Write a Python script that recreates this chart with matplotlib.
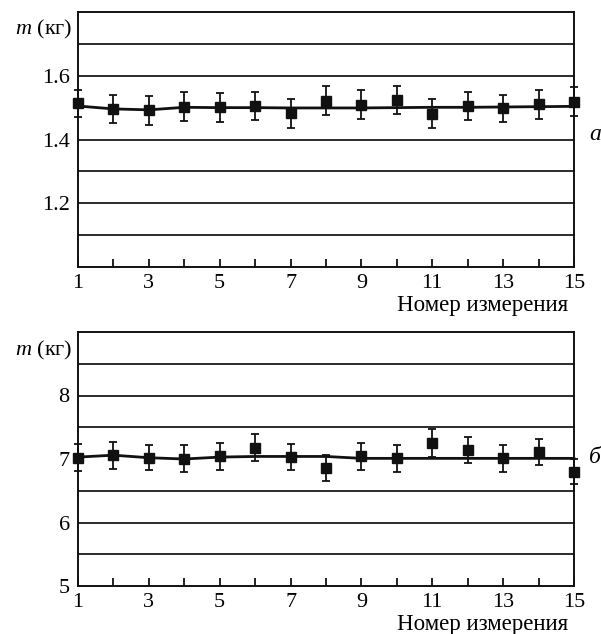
import matplotlib
matplotlib.use("Agg")
import matplotlib.pyplot as plt
import numpy as np

plt.rcParams['font.family'] = ['Liberation Serif', 'DejaVu Serif']
plt.rcParams['mathtext.fontset'] = 'custom'
plt.rcParams['mathtext.it'] = 'Liberation Serif:italic'
plt.rcParams['mathtext.rm'] = 'Liberation Serif'

n_meas = list(range(1, 16))

# Panel a
m_a = [1.514, 1.496, 1.491, 1.503, 1.501, 1.505, 1.482, 1.522, 1.509, 1.524,
       1.481, 1.505, 1.498, 1.510, 1.519]
err_a = [0.042, 0.045, 0.045, 0.045, 0.045, 0.045, 0.045, 0.045, 0.045, 0.045,
         0.045, 0.045, 0.043, 0.045, 0.045]
mean_a = [1.505, 1.496, 1.493, 1.501, 1.500, 1.500, 1.499, 1.499, 1.499, 1.500,
          1.501, 1.501, 1.502, 1.503, 1.504]
grid_a = [1.1, 1.2, 1.3, 1.4, 1.6, 1.7]
yticks_a = [1.2, 1.4, 1.6]
ylim_a = (1.0, 1.8)

# Panel b
m_b = [7.02, 7.06, 7.02, 7.005, 7.04, 7.18, 7.03, 6.86, 7.04, 7.01,
       7.25, 7.14, 7.01, 7.11, 6.80]
err_b = [0.21, 0.21, 0.20, 0.21, 0.21, 0.21, 0.21, 0.21, 0.21, 0.21,
         0.215, 0.21, 0.21, 0.21, 0.20]
mean_b = [7.03, 7.06, 7.02, 7.00, 7.03, 7.04, 7.04, 7.04, 7.01, 7.01,
          7.01, 7.01, 7.01, 7.01, 7.01]
grid_b = [5.5, 6.0, 6.5, 7.5, 8.0, 8.5]
yticks_b = [5, 6, 7, 8]
ylim_b = (5.0, 9.0)

xticklabels = ['1', '', '3', '', '5', '', '7', '', '9', '', '11', '', '13', '', '15']

W, H = 601, 634
fig = plt.figure(figsize=(W / 100, H / 100), dpi=100)

def px_axes(left, top, right, bottom):
    return fig.add_axes([left / W, 1 - bottom / H, (right - left) / W, (bottom - top) / H])

ax1 = px_axes(78, 12, 574, 267)
ax2 = px_axes(78, 332, 574, 586)

def draw(ax, m, err, mean, grid, yticks, ylim, ylabels, letter, label_y, letter_y):
    ax.set_xlim(1, 15)
    ax.set_ylim(*ylim)
    for g in grid:
        ax.axhline(g, color='#1a1a1a', lw=1.3, zorder=1)
    ax.plot(n_meas, mean, color='#111111', lw=2.0, zorder=3, clip_on=False)
    ax.errorbar(n_meas, m, yerr=err, fmt='s', color='#111111', ms=7.5,
                ecolor='#111111', elinewidth=1.3, capsize=3, capthick=1.3,
                zorder=4, clip_on=False)
    ax.set_xticks(n_meas)
    ax.set_xticklabels(xticklabels, fontsize=16)
    ax.set_yticks(yticks)
    ax.set_yticklabels(ylabels, fontsize=16)
    ax.tick_params(axis='x', direction='in', length=6, width=1.3, pad=5, color='#111111')
    ax.tick_params(axis='y', length=0, pad=6)
    for s in ax.spines.values():
        s.set_linewidth(1.4)
        s.set_color('#111111')
    ax.text(-0.012, label_y, r'$m$ (кг)', transform=ax.transAxes,
            ha='right', va='center', fontsize=16)
    ax.text(1.042, letter_y, letter, transform=ax.transAxes, ha='center', va='center',
            fontsize=17, style='italic')
    ax.text(0.988, -0.15, 'Номер измерения', transform=ax.transAxes,
            ha='right', va='center', fontsize=16.5)

draw(ax1, m_a, err_a, mean_a, grid_a, yticks_a, ylim_a, ['1.2', '1.4', '1.6'], 'а', 0.933, 0.518)
draw(ax2, m_b, err_b, mean_b, grid_b, yticks_b, ylim_b, ['5', '6', '7', '8'], 'б', 0.929, 0.504)

fig.savefig('out.png', dpi=100)
